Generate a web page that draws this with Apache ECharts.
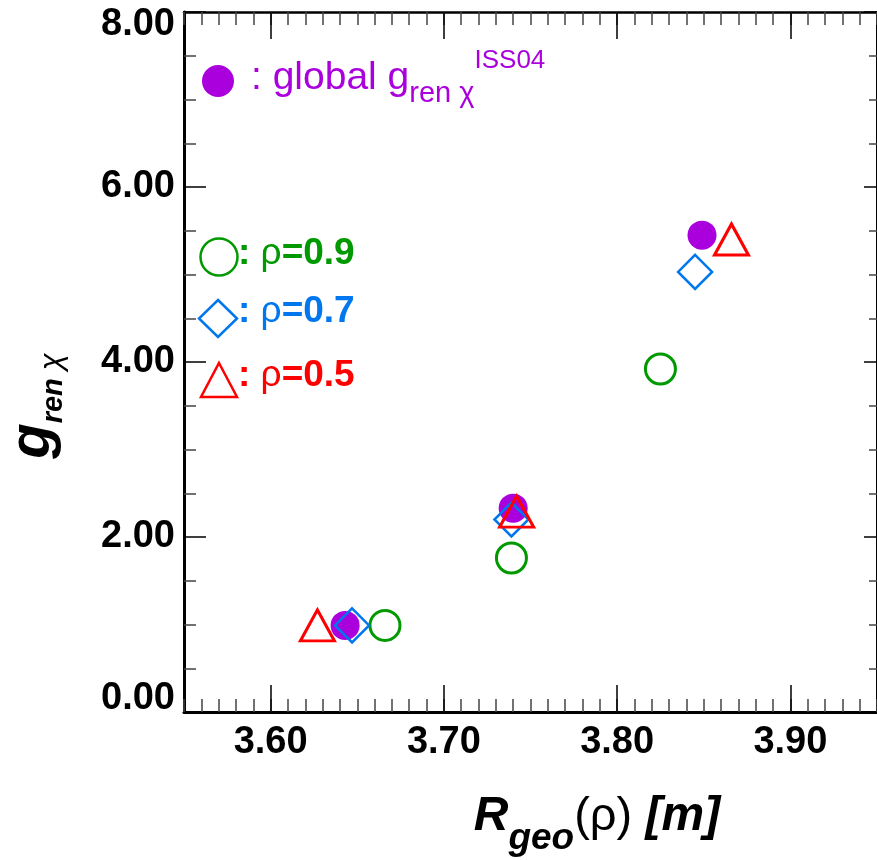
<!DOCTYPE html>
<html><head><meta charset="utf-8">
<script src="https://cdn.jsdelivr.net/npm/echarts@6/dist/echarts.min.js"></script>
<style>html,body{margin:0;padding:0;background:#fff}#c{width:877px;height:860px}</style>
</head><body><div id="c"></div>
<script>
// ---- data ----
const xTickValues = [3.60, 3.70, 3.80, 3.90];
const yTickValues = [0, 2, 4, 6, 8];
const globalX = [3.643, 3.740, 3.849];
const globalY = [0.99, 2.33, 5.45];
const rho09X = [3.666, 3.739, 3.825];
const rho09Y = [0.99, 1.76, 3.92];
const rho07X = [3.647, 3.739, 3.845];
const rho07Y = [0.99, 2.20, 5.03];
const rho05X = [3.627, 3.742, 3.866];
const rho05Y = [0.99, 2.29, 5.40];

const PURPLE = '#AA00DD', GREEN = '#009900', BLUE = '#0077EE', RED = '#FF0000';
const FONT = 'Liberation Sans, Arial, sans-serif';
const zip = (xs, ys) => xs.map((x, i) => [x, ys[i]]);

const X_MIN = 3.55, X_MAX = 3.95;
const chart = echarts.init(document.getElementById('c'), null, {renderer: 'canvas'});

function minorX(pos, lineW) {
  return {
    type: 'value', gridIndex: 0, position: pos, min: X_MIN, max: X_MAX, interval: 0.01,
    axisLine: {show: true, onZero: false, lineStyle: {color: '#000', width: lineW}},
    axisTick: {show: true, inside: true, length: 13, lineStyle: {color: '#444', width: 1.5}},
    axisLabel: {show: false}, splitLine: {show: false}
  };
}
function majorX(pos, showLabel) {
  return {
    type: 'value', gridIndex: 0, position: pos, min: X_MIN, max: X_MAX,
    axisLine: {show: false, onZero: false},
    axisTick: {show: true, inside: true, length: 27, customValues: xTickValues, lineStyle: {color: '#000', width: 1.5}},
    axisLabel: {show: showLabel, customValues: xTickValues, formatter: v => v.toFixed(2),
      fontSize: 38, fontWeight: 'bold', fontFamily: FONT, color: '#000', margin: 12},
    splitLine: {show: false}
  };
}
function yAx(pos, showLabel, lineW, tl, ml) {
  return {
    type: 'value', gridIndex: 0, position: pos, min: 0, max: 8, interval: 2,
    axisLine: {show: true, onZero: false, lineStyle: {color: '#000', width: lineW}},
    axisTick: {show: true, inside: true, length: tl, lineStyle: {color: '#000', width: 1.5}},
    minorTick: {show: true, splitNumber: 4, length: ml, lineStyle: {color: '#444', width: 1.5}},
    axisLabel: {show: showLabel, formatter: v => v.toFixed(2), fontSize: 38, fontWeight: 'bold',
      fontFamily: FONT, color: '#000', margin: 9, lineHeight: 26,
      verticalAlignMinLabel: 'bottom', verticalAlignMaxLabel: 'top'},
    splitLine: {show: false}
  };
}

const option = {
  backgroundColor: '#fff',
  animation: false,
  grid: {left: 184, top: 12, width: 700, height: 700, containLabel: false},
  xAxis: [minorX('bottom', 3), majorX('bottom', true), minorX('top', 2.5), majorX('top', false)],
  yAxis: [yAx('left', true, 3, 22, 12), yAx('right', false, 2, 13, 8)],
  series: [
    {type: 'scatter', xAxisIndex: 0, yAxisIndex: 0, data: zip(globalX, globalY),
      symbol: 'circle', symbolSize: 29, itemStyle: {color: PURPLE, opacity: 1}},
    {type: 'scatter', xAxisIndex: 0, yAxisIndex: 0, data: zip(rho09X, rho09Y),
      symbol: 'circle', symbolSize: 30, itemStyle: {color: 'rgba(0,0,0,0)', borderColor: GREEN, borderWidth: 3, opacity: 1}},
    {type: 'scatter', xAxisIndex: 0, yAxisIndex: 0, data: zip(rho07X, rho07Y),
      symbol: 'diamond', symbolSize: 34, itemStyle: {color: 'rgba(0,0,0,0)', borderColor: BLUE, borderWidth: 2.5, opacity: 1}},
    {type: 'scatter', xAxisIndex: 0, yAxisIndex: 0, data: zip(rho05X, rho05Y),
      symbol: 'triangle', symbolSize: [34, 31], itemStyle: {color: 'rgba(0,0,0,0)', borderColor: RED, borderWidth: 3, opacity: 1}}
  ],
  graphic: [
    // legend: global
    {type: 'circle', shape: {cx: 218, cy: 81, r: 16}, style: {fill: PURPLE}},
    {type: 'text', x: 251, y: 78, style: {
      text: '{a|: global g}{s|ren χ}{p|ISS04}', verticalAlign: 'middle', align: 'left',
      rich: {
        a: {fontSize: 39, fontFamily: FONT, fill: PURPLE, lineHeight: 60, verticalAlign: 'middle'},
        s: {fontSize: 29, fontFamily: FONT, fill: PURPLE, lineHeight: 38, verticalAlign: 'bottom'},
        p: {fontSize: 26, fontFamily: FONT, fill: PURPLE, lineHeight: 32, verticalAlign: 'top'}
      }}},
    // legend: rho 0.9
    {type: 'circle', shape: {cx: 219, cy: 257, r: 18.5}, style: {fill: 'none', stroke: GREEN, lineWidth: 2.5}},
    {type: 'text', x: 238, y: 254, style: {
      text: '{b|:}{r| ρ}{b|=0.9}', verticalAlign: 'middle', align: 'left',
      rich: {
        b: {fontSize: 37, fontFamily: FONT, fontWeight: 'bold', fill: GREEN},
        r: {fontSize: 37, fontFamily: FONT, fill: GREEN}
      }}},
    // legend: rho 0.7
    {type: 'polygon', shape: {points: [[218, 300], [237, 318.5], [218, 337], [199, 318.5]]},
      style: {fill: 'none', stroke: BLUE, lineWidth: 2.5}},
    {type: 'text', x: 238, y: 312, style: {
      text: '{b|:}{r| ρ}{b|=0.7}', verticalAlign: 'middle', align: 'left',
      rich: {
        b: {fontSize: 37, fontFamily: FONT, fontWeight: 'bold', fill: BLUE},
        r: {fontSize: 37, fontFamily: FONT, fill: BLUE}
      }}},
    // legend: rho 0.5
    {type: 'polygon', shape: {points: [[219, 363], [237, 397], [201, 397]]},
      style: {fill: 'none', stroke: RED, lineWidth: 2.5}},
    {type: 'text', x: 238, y: 376, style: {
      text: '{b|:}{r| ρ}{b|=0.5}', verticalAlign: 'middle', align: 'left',
      rich: {
        b: {fontSize: 37, fontFamily: FONT, fontWeight: 'bold', fill: RED},
        r: {fontSize: 37, fontFamily: FONT, fill: RED}
      }}},
    // y axis title
    {type: 'text', x: 33, y: 406, rotation: Math.PI / 2, style: {
      text: '{g|g}{s|ren }{c|χ}', align: 'center', verticalAlign: 'middle',
      rich: {
        g: {fontSize: 58, fontFamily: FONT, fontWeight: 'bold', fontStyle: 'italic', fill: '#000', lineHeight: 70, verticalAlign: 'middle'},
        s: {fontSize: 29, fontFamily: FONT, fontWeight: 'bold', fontStyle: 'italic', fill: '#000', lineHeight: 24, verticalAlign: 'bottom'},
        c: {fontSize: 31, fontFamily: FONT, fontStyle: 'italic', fill: '#000', lineHeight: 24, verticalAlign: 'bottom'}
      }}},
    // x axis title
    {type: 'text', x: 597, y: 817, style: {
      text: '{m|R}{s|geo}{r|(ρ)}{m| [m]}', align: 'center', verticalAlign: 'middle',
      rich: {
        m: {fontSize: 48, fontFamily: FONT, fontWeight: 'bold', fontStyle: 'italic', fill: '#000', lineHeight: 80, verticalAlign: 'middle'},
        s: {fontSize: 37, fontFamily: FONT, fontWeight: 'bold', fontStyle: 'italic', fill: '#000', lineHeight: 16, verticalAlign: 'bottom'},
        r: {fontSize: 47, fontFamily: FONT, fill: '#000', lineHeight: 80, verticalAlign: 'middle'}
      }}}
  ]
};
chart.setOption(option);
</script>
</body></html>
